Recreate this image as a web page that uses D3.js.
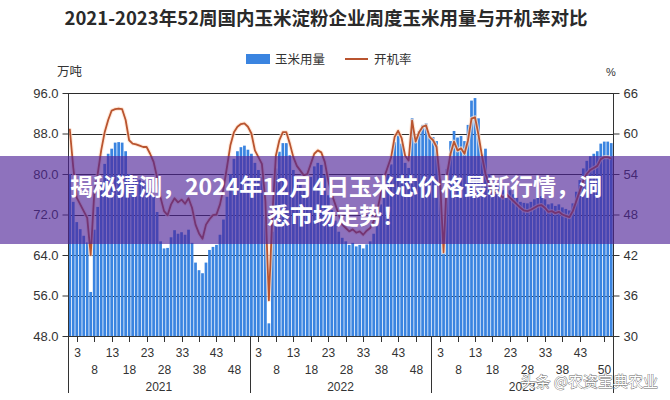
<!DOCTYPE html>
<html><head><meta charset="utf-8">
<script src="https://cdn.jsdelivr.net/npm/d3@7/dist/d3.min.js"></script>
<style>
body{margin:0;background:#fff;}
svg{display:block;font-family:"Liberation Sans",Arial,sans-serif;}
</style>
</head><body>
<svg id="c" width="670" height="400"></svg>
<script>
// ---------- data ----------
const years = ["2021", "2022", "2023"];
const seriesNames = ["玉米用量", "开机率"];
const usage2021 = [80.0,74.5,70.5,69.1,67.8,66.5,56.7,69.0,73.5,78.5,
  82.0,84.0,85.0,86.2,86.3,86.2,84.5,80.0,79.3,79.1,
  78.9,78.6,78.3,77.2,75.5,72.5,66.7,65.3,65.4,67.5,
  68.9,68.2,68.5,68.0,69.0,66.4,62.5,61.0,60.4,62.5,
  65.0,65.6,66.0,68.0,71.0,75.5,80.0,83.0,84.5,85.3,
  85.6,84.8];
const usage2022 = [84.0,82.2,80.8,79.4,71.5,50.5,68.6,81.1,84.4,86.1,
  86.1,83.7,80.8,78.9,77.9,76.9,77.2,79.4,81.5,82.2,
  81.8,79.8,75.8,72.9,70.8,68.6,67.4,66.7,66.0,66.4,
  65.7,66.0,65.3,66.1,66.7,68.2,70.3,74.0,77.6,79.8,
  81.9,86.3,87.6,86.0,82.2,81.2,91.0,86.4,88.5,89.7,
  90.0,87.5];
const usage2023 = [87.3,86.5,79.0,64.5,81.0,86.5,88.5,87.2,87.5,86.5,
  89.7,94.5,95.0,91.0,84.0,85.0,80.0,77.5,78.3,77.5,
  76.8,77.5,76.8,76.0,75.3,74.5,74.3,74.2,74.5,75.0,
  75.4,75.6,75.0,74.0,74.2,73.7,74.0,73.4,73.1,72.8,
  74.2,76.5,78.8,81.1,82.6,83.5,84.0,84.5,86.0,86.4,
  86.4,86.1];
const rate2021 = [60.7,55.0,50.5,49.5,48.5,47.5,42.0,51.0,54.0,57.5,
  60.2,62.0,63.4,63.6,63.7,63.6,62.0,59.0,58.5,58.4,
  58.2,58.0,58.0,57.0,55.8,53.5,50.5,48.5,47.9,49.5,
  50.4,49.8,50.2,49.6,50.4,49.0,46.5,45.2,44.4,46.5,
  47.3,47.9,48.0,49.5,51.8,55.0,58.3,60.2,61.0,61.4,
  61.5,61.0];
const rate2022 = [60.0,57.5,56.5,55.5,50.0,35.3,48.0,56.7,59.0,60.2,
  60.2,58.5,56.5,55.2,54.5,53.8,54.0,55.5,57.0,57.5,
  57.2,55.8,53.0,51.0,49.5,48.0,46.5,46.0,45.5,45.8,
  45.3,45.5,45.0,45.6,46.0,47.0,48.5,51.0,53.5,55.0,
  56.5,59.5,60.4,59.3,56.7,56.0,61.9,58.8,60.2,61.0,
  61.2,59.5];
const rate2023 = [59.0,58.0,53.0,42.4,54.0,57.0,58.8,57.5,57.8,57.0,
  59.0,62.2,62.4,59.8,56.7,54.0,52.5,51.0,51.5,51.0,
  50.5,51.0,50.5,50.0,49.5,49.0,48.6,48.5,48.7,49.0,
  49.3,49.4,49.0,48.4,48.5,48.2,48.4,48.0,47.8,47.6,
  48.5,50.0,51.5,53.0,54.0,54.6,54.9,55.2,56.2,56.5,
  56.5,56.3];
const leftTicks = [48, 56, 64, 72, 80, 88, 96];
const rightTicks = [30, 36, 42, 48, 54, 60, 66];
const weekTicks2021 = [3, 8, 13, 18, 23, 28, 33, 38, 43, 48];
const weekTicks2022 = [3, 8, 13, 18, 23, 28, 33, 38, 43, 48];
const weekTicks2023 = [3, 8, 13, 18, 23, 28, 33, 38, 43, 50];
const titleText = "2021-2023年52周国内玉米淀粉企业周度玉米用量与开机率对比";
const bannerLines = ["揭秘猜测，2024年12月4日玉米芯价格最新行情，洞", "悉市场走势！"];
const watermark = "头条 @农资宝典农业";

// ---------- build ----------
const usage = [...usage2021, ...usage2022, ...usage2023];
const rate = [...rate2021, ...rate2022, ...rate2023];
const weeksPerYear = 52;
const weekTicks = [weekTicks2021, weekTicks2022, weekTicks2023];

const M = {l: 68, r: 613, t: 93, b: 336};
const svg = d3.select("#c");
const x = d3.scaleBand().domain(d3.range(usage.length)).range([M.l, M.r]).paddingInner(0.22).paddingOuter(0.11);
const bw = x.bandwidth();
const cx = i => x(i) + bw / 2;
const yL = d3.scaleLinear().domain([48, 96]).range([M.b, M.t]);
const yR = d3.scaleLinear().domain([30, 66]).range([M.b, M.t]);
const ink = "#333";
const barColor = "#3a84e0";

// title
svg.append("text").attr("x", 326).attr("y", 25).attr("text-anchor", "middle")
  .style("font-family", "'Noto Sans CJK SC',sans-serif").style("font-size", "18.5px").style("font-weight", "700")
  .attr("fill", "#2a2a2a").text(titleText);

// legend
const lg = svg.append("g").style("font-family", "'Noto Sans CJK SC',sans-serif").style("font-size", "12.5px");
lg.append("rect").attr("x", 246).attr("y", 54).attr("width", 24).attr("height", 10).attr("fill", barColor);
lg.append("text").attr("x", 275).attr("y", 64).attr("fill", "#333").text(seriesNames[0]);
lg.append("line").attr("x1", 345).attr("x2", 368).attr("y1", 59).attr("y2", 59).attr("stroke", "#b9542f").attr("stroke-width", 2);
lg.append("text").attr("x", 374).attr("y", 64).attr("fill", "#333").text(seriesNames[1]);

// units
svg.append("text").attr("x", 57).attr("y", 76).style("font-family", "'Noto Sans CJK SC',sans-serif").style("font-size", "12.5px").attr("fill", "#333").text("万吨");
svg.append("text").attr("x", 606).attr("y", 76).style("font-size", "11px").attr("fill", "#333").text("%");

// gridlines
svg.append("g").selectAll("line").data(leftTicks).join("line")
  .attr("x1", M.l).attr("x2", M.r).attr("y1", d => Math.round(yL(d)) + 0.5).attr("y2", d => Math.round(yL(d)) + 0.5)
  .attr("stroke", "#2b2b2b").attr("stroke-width", 1);

// bars
svg.append("g").selectAll("rect").data(usage).join("rect")
  .attr("x", (d, i) => x(i)).attr("width", bw)
  .attr("y", d => yL(d)).attr("height", d => yL(48) - yL(d))
  .attr("fill", barColor);

// line
const line = d3.line().x((d, i) => cx(i)).y(d => yR(d)).curve(d3.curveLinear);
svg.append("path").datum(rate).attr("d", line).attr("fill", "none")
  .attr("stroke", "rgba(255,225,205,0.75)").attr("stroke-width", 4).attr("stroke-linejoin", "round");
svg.append("path").datum(rate).attr("d", line).attr("fill", "none")
  .attr("stroke", "#b9542f").attr("stroke-width", 1.8).attr("stroke-linejoin", "round");

// left axis
const axL = svg.append("g").attr("transform", `translate(${M.l + 0.5},0)`)
  .call(d3.axisLeft(yL).tickValues(leftTicks).tickFormat(d3.format(".1f")).tickSize(6).tickSizeOuter(0));
axL.selectAll("text").style("font-size", "13px").attr("fill", ink).attr("x", -10);
axL.selectAll("line,path").attr("stroke", ink);
axL.select(".domain").remove();
svg.append("line").attr("x1", M.l + 0.5).attr("x2", M.l + 0.5).attr("y1", M.t).attr("y2", 393).attr("stroke", ink);

// right axis
const axR = svg.append("g").attr("transform", `translate(${M.r + 0.5},0)`)
  .call(d3.axisRight(yR).tickValues(rightTicks).tickSize(6).tickSizeOuter(0));
axR.selectAll("text").style("font-size", "13px").attr("fill", ink).attr("x", 10);
axR.selectAll("line,path").attr("stroke", ink);
axR.select(".domain").remove();
svg.append("line").attr("x1", M.r + 0.5).attr("x2", M.r + 0.5).attr("y1", M.t).attr("y2", 393).attr("stroke", ink);

// bottom axis
svg.append("line").attr("x1", M.l).attr("x2", M.r).attr("y1", M.b + 0.5).attr("y2", M.b + 0.5).attr("stroke", ink);
const bx = svg.append("g").style("font-size", "12px").attr("fill", ink);
years.forEach((yr, yi) => {
  const base = yi * weeksPerYear;
  weekTicks[yi].forEach((w, k) => {
    const px = Math.round(cx(base + w - 1)) + 0.5;
    bx.append("line").attr("x1", px).attr("x2", px).attr("y1", M.b).attr("y2", M.b + 6).attr("stroke", ink);
    bx.append("text").attr("x", px).attr("y", k % 2 === 0 ? 357 : 374).attr("text-anchor", "middle").attr("fill", ink).text(w);
  });
  const x0 = x(base), x1 = x(base + weeksPerYear - 1) + bw;
  bx.append("text").attr("x", (x0 + x1) / 2).attr("y", 391).attr("text-anchor", "middle").attr("fill", ink).text(yr);
  if (yi > 0) {
    const sep = Math.round(x(base) - x.step() * x.paddingInner() / 2) + 0.5;
    bx.append("line").attr("x1", sep).attr("x2", sep).attr("y1", M.b).attr("y2", 393).attr("stroke", ink);
  }
});

// banner overlay
svg.append("rect").attr("x", 0).attr("y", 156).attr("width", 670).attr("height", 88).attr("fill", "rgb(78,34,152)").attr("fill-opacity", 0.64);
const bt = svg.append("g").style("font-family", "'Noto Sans CJK SC',sans-serif").style("font-size", "23px").style("font-weight", "700").attr("fill", "#fff").attr("text-anchor", "middle");
bt.append("text").attr("x", 336).attr("y", 195).text(bannerLines[0]);
bt.append("text").attr("x", 336).attr("y", 224).text(bannerLines[1]);

// watermark
svg.append("text").attr("x", 658).attr("y", 387).attr("text-anchor", "end")
  .style("font-family", "'Noto Sans CJK SC',sans-serif").style("font-size", "15px")
  .attr("fill", "#fff").attr("stroke", "#666").attr("stroke-width", 0.8).attr("paint-order", "stroke").text(watermark);
</script>
</body></html>
